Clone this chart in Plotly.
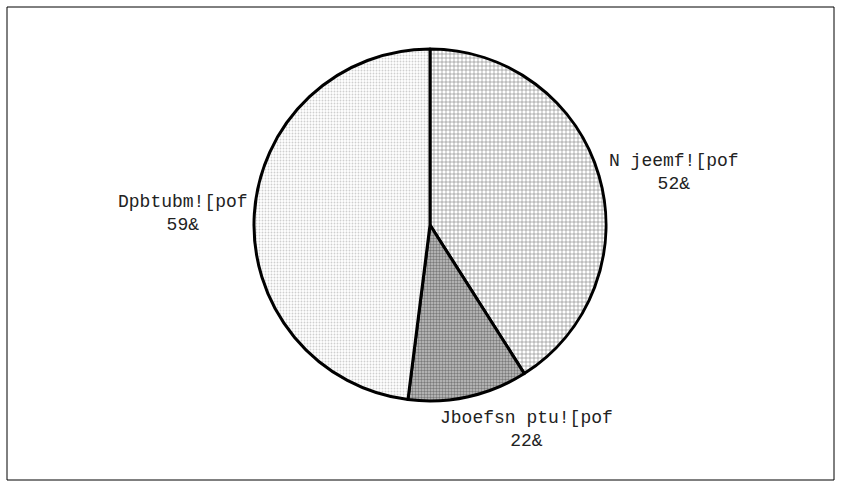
import plotly.graph_objects as go

labels = ["N jeemf![pof", "Jboefsn ptu![pof", "Dpbtubm![pof"]
values = [41, 11, 48]
pct_text = ["52&", "22&", "59&"]

patterns = dict(
    shape=["+", ".", "."],
    fgcolor=["#8a8a8a", "#7a7a7a", "#cfcfcf"],
    bgcolor=["#ffffff", "#c4c4c4", "#ffffff"],
    size=[4, 3, 3],
    solidity=[0.3, 0.5, 0.3],
)

fig = go.Figure(go.Pie(
    labels=labels, values=values, sort=False, direction="clockwise", rotation=0,
    textinfo="none", hoverinfo="skip", showlegend=False,
    marker=dict(colors=["#ffffff", "#c4c4c4", "#ffffff"],
                line=dict(color="black", width=3), pattern=patterns),
    domain=dict(x=[254/842, 606/842], y=[(488-401)/488, (488-49)/488]),
))

label_pos = [(674, 172), (526, 429), (183, 213)]
for lab, pt, (px, py) in zip(labels, pct_text, label_pos):
    fig.add_annotation(x=px/842, y=1-py/488, xref="paper", yref="paper",
                       xanchor="center", yanchor="middle",
                       text=lab + "<br>" + pt, showarrow=False,
                       font=dict(family="Liberation Mono", size=18, color="#222"),
                       align="center")

fig.add_shape(type="rect", xref="paper", yref="paper",
              x0=7/842, x1=834/842, y0=1-480/488, y1=1-7/488,
              line=dict(color="black", width=1))

fig.update_layout(width=842, height=488, margin=dict(l=0, r=0, t=0, b=0),
                  paper_bgcolor="white", plot_bgcolor="white")
fig.write_html("out.html")
